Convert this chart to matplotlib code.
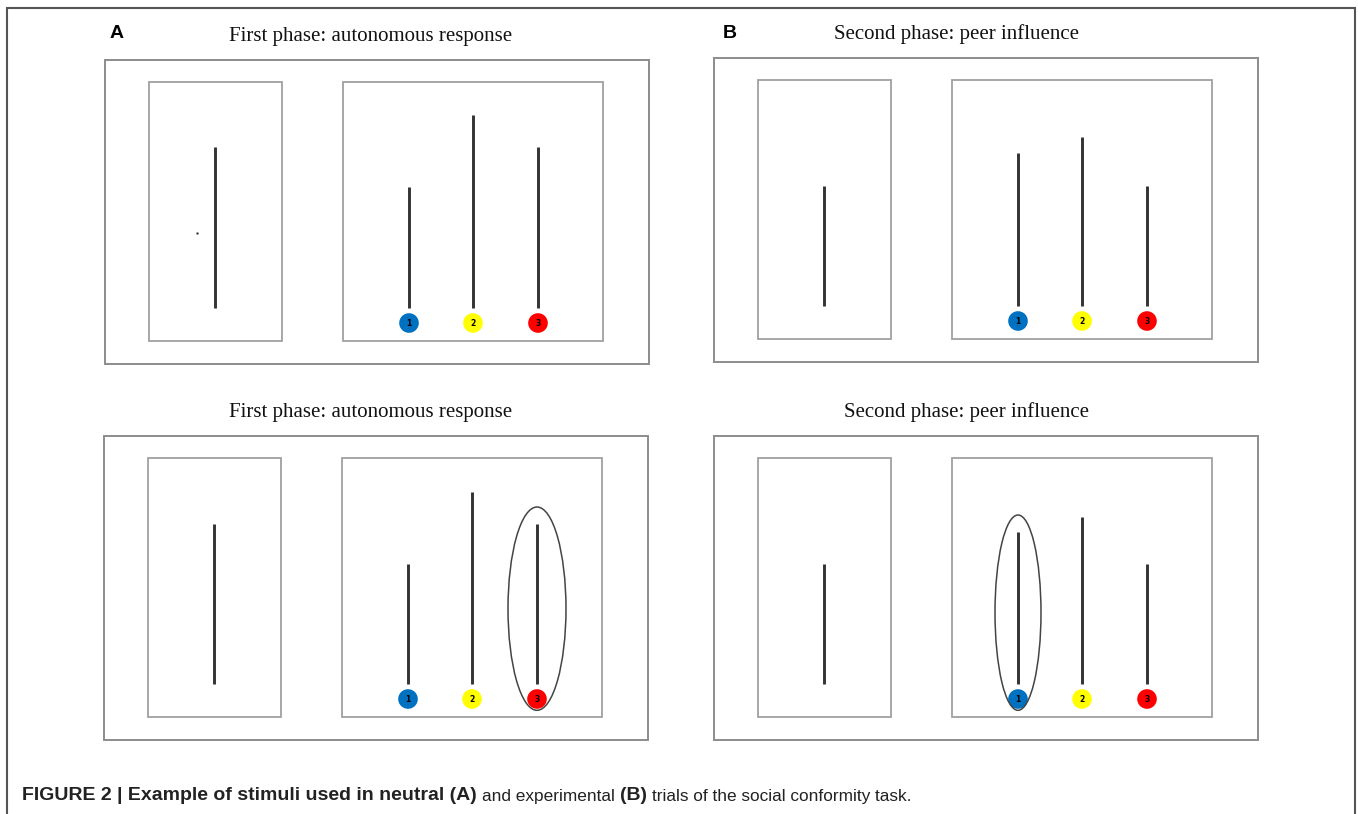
import matplotlib
matplotlib.use("Agg")
import matplotlib.pyplot as plt
from matplotlib.patches import Rectangle, Circle, Ellipse

# ---------------- data ----------------
panel_titles = ["First phase: autonomous response", "Second phase: peer influence",
                "First phase: autonomous response", "Second phase: peer influence"]
panel_letters = ["A", "B", None, None]
# length (px) of the single reference line in each panel
reference_lengths = [161, 120, 160, 120]
# lengths (px) of the three comparison lines 1, 2, 3
comparison_lengths = [[121, 193, 161],
                      [153, 169, 120],
                      [120, 192, 160],
                      [152, 167, 120]]
choice_labels = ["1", "2", "3"]
choice_colors = ["#0070C0", "#FFFF00", "#FF0000"]
# highlighted (circled) choice per panel, None = no highlight
selected_choice = [None, None, 3, 1]
caption_parts = [("FIGURE 2 | Example of stimuli used in neutral (A)", "bold"),
                 ("and experimental", "normal"),
                 ("(B)", "bold"),
                 ("trials of the social conformity task.", "normal")]

# ---------------- layout (pixels) ----------------
W, H = 1358, 814
panel_origins = [(105, 60), (714, 58), (104, 436), (714, 436)]
title_x = [371, 956, 371, 966]
letter_x = [117, 730]
ellipse_widths = [58, 58, 58, 46]
OUT_W, OUT_H = 544, 304
LEFT_BOX = (44, 22, 133, 259)
RIGHT_BOX = (238, 22, 260, 259)
REF_X = 110
COMP_X = [304, 368, 433]
LINE_BOTTOM = 248
CIRCLE_Y = 263
CIRCLE_R = 9.8

box_col = "#a0a0a0"
line_col = "#333333"

fig = plt.figure(figsize=(W / 100, H / 100), dpi=100)
ax = fig.add_axes([0, 0, 1, 1])
ax.set_xlim(0, W)
ax.set_ylim(H, 0)
ax.axis("off")

# figure frame (open at the bottom)
ax.plot([7, 7, 1355, 1355], [H, 8, 8, H], color="#555555", lw=1.5,
        solid_joinstyle="miter")

for i in range(4):
    ox, oy = panel_origins[i]
    ax.add_patch(Rectangle((ox, oy), OUT_W, OUT_H, fill=False, ec="#8c8c8c", lw=1.4))
    for (bx, by, bw, bh) in (LEFT_BOX, RIGHT_BOX):
        ax.add_patch(Rectangle((ox + bx, oy + by), bw, bh, fill=False, ec=box_col, lw=1.3))
    # reference line
    yb = oy + LINE_BOTTOM
    ax.vlines(ox + REF_X, yb - reference_lengths[i], yb, color=line_col, lw=2.1)
    # comparison lines + numbered circles
    for k in range(3):
        cx = ox + COMP_X[k]
        ax.vlines(cx, yb - comparison_lengths[i][k], yb, color=line_col, lw=2.1)
        ax.add_patch(Circle((cx, oy + CIRCLE_Y), CIRCLE_R, fc=choice_colors[k],
                            ec="none", zorder=3))
        ax.text(cx, oy + CIRCLE_Y + 0.5, choice_labels[k], ha="center", va="center",
                fontsize=5.5, fontweight="bold", color="black", zorder=4,
                family="DejaVu Sans")
    if selected_choice[i] is not None:
        k = selected_choice[i] - 1
        cx = ox + COMP_X[k]
        top = yb - comparison_lengths[i][k] - 17
        bot = oy + CIRCLE_Y + CIRCLE_R + 1.5
        ax.add_patch(Ellipse((cx, (top + bot) / 2), ellipse_widths[i], bot - top,
                             fill=False, ec="#444444", lw=1.1, zorder=5))
    ax.text(title_x[i], oy - 24, panel_titles[i], ha="center", va="center",
            fontsize=15, family="Liberation Serif", color="#111111")
    if panel_letters[i]:
        ax.text(letter_x[i], 33, panel_letters[i], ha="center", va="center",
                fontsize=14, fontweight="bold", family="Liberation Sans", color="black")

# small stray dot in the first reference screen
ax.plot([197], [233], marker="s", ms=1.6, color="#222222", mec="none")

# caption with mixed weights
fig.canvas.draw()
renderer = fig.canvas.get_renderer()
x = 22
sizes = {"bold": 14, "normal": 12.4}
for txt, wt in caption_parts:
    t = ax.text(x, 796, txt, ha="left", va="center", fontsize=sizes[wt], fontweight=wt,
                family="Liberation Sans", color="#222222")
    bb = t.get_window_extent(renderer=renderer)
    x += bb.width + 0.278 * sizes[wt] * 100 / 72

fig.savefig("out.png", dpi=100)
